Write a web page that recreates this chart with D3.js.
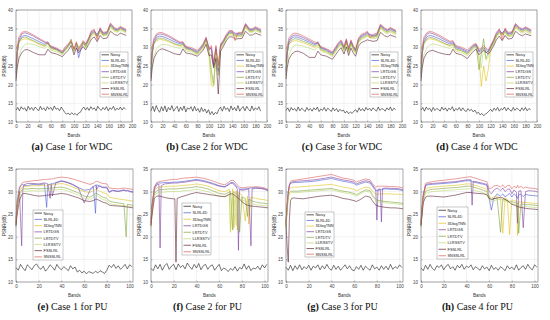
<!DOCTYPE html>
<meta charset="utf-8">
<style>
body { margin: 0; background: #fff; }
svg { display: block; }
.grid line { stroke: #e4e4e4; stroke-width: 0.5px; }
.box { fill: none; stroke: #555; stroke-width: 0.5px; }
.axis path { display: none; }
.axis line { stroke: #555; stroke-width: 0.4px; }
.axis text { fill: #444; }
.lab { font: 4.5px "Liberation Sans", Arial, sans-serif; fill: #333; text-anchor: middle; }
.caption { font: 10px "Liberation Serif", serif; fill: #111; text-anchor: middle; }
.caption .b { font-weight: bold; }
.legend rect { fill: #fff; stroke: #777; stroke-width: 0.4px; }
.legend text { font: 3.9px "Liberation Sans", Arial, sans-serif; fill: #222; }
.series { fill: none; stroke-width: 0.6px; stroke-linejoin: round; }
</style>
<body>
<svg width="550" height="320"></svg>
<script src="https://d3js.org/d3.v7.min.js"></script>
<script>
// methods, in legend order
var methods = ["Noisy", "SLRL4D", "3DlogTNN", "LRTDGS", "LRTDTV", "LLRSSTV", "FSSLRL", "SNSSLRL"];
var colors = ["#1a1a1a", "#4b5bd6", "#e3c21a", "#7b3fa0", "#7fa33a", "#b8d96e", "#5e2236", "#dc5a5a"];

// ---- WDC (191 bands) ----
var wdcBands = [0,2,5,10,15,20,30,40,50,55,60,70,80,85,90,95,100,104,108,112,116,120,125,130,135,140,145,150,157,163,170,175,180,190];
var wdcNoisyBands = d3.range(0, 190, 3);

// case 1 : SLRL4D, 3DlogTNN, LRTDGS, LRTDTV, LLRSSTV, FSSLRL, SNSSLRL
var wdcA = [
  [22,28,31.5,32.9,33.2,33,32.3,31.5,30.8,31.5,30,29.5,28.5,29.5,30.3,31.2,29.8,30.5,27.2,29.5,31,30.5,32,33.8,34.2,33.5,34.8,33.5,33.8,36,34.8,34.6,35.2,34.4],
  [29.5,30.5,31.3,32,32.3,32.2,31.6,30.8,30.2,31,29.6,29.2,28.3,29.3,30.2,31.8,29.3,31,29.7,30.4,31.2,30,31.6,33.3,33.8,33.2,34.3,33.2,33.5,35.6,34.5,34.3,34.9,34.1],
  [23,28.5,32,33.6,33.9,33.7,33,32.1,31.3,31,30.2,29.6,28.7,29.8,30.6,31.5,29.2,31,29,30,31.5,30.8,32.2,34.2,34.5,33,35,33.8,34,36.3,35,34.8,35.4,34.6],
  [24,28.5,31.3,32.5,32.8,32.5,31.8,31,30.4,31.3,29.8,29.3,28.4,29.4,30.5,32.2,29,31.2,30,30.8,31.5,30.2,31.8,33.5,34,32.8,34.5,33.3,33.6,35.8,34.6,34.4,35,34.2],
  [21.5,25,27.8,29.8,30.7,31,30.8,30.2,29.7,30.5,29.2,28.8,28,29,29.9,31.2,28.8,30.6,29.3,30,30.8,29.8,31.3,33,33.5,32.6,34,33,33.2,35.2,34.2,34,34.6,33.8],
  [21,24.5,27,28.6,29.3,29.4,28.6,28,28,29.5,28.6,28.2,27.5,28.4,29.2,30.5,28,29.8,28.5,29.4,30.2,29.3,30.7,32.2,32.8,31.5,33.2,32.3,32.5,34.3,33.4,33.2,33.8,33.2],
  [25,30,32.8,34,34.3,34.1,33.3,32.4,31.5,31.2,30.4,29.8,29,30.2,31,31.8,29.5,31.5,29.5,30.5,31.8,31,32.5,34.5,34.8,32,35.3,34,34.2,36.5,35.2,35,35.6,34.8]
];
var wdcNoisyA = [13.2,13.9,13.0,14.1,13.4,13.8,12.9,14.2,13.3,13.9,13.1,14.0,13.5,13.0,14.2,13.3,13.8,13.0,14.1,13.4,13.9,13.1,14.3,13.4,13.7,13.0,14.0,13.3,12.6,12.1,12.4,11.9,12.5,12.0,12.3,11.8,12.4,12.6,13.5,14.0,13.2,13.9,13.1,14.1,13.4,13.8,13.0,14.2,13.5,13.1,13.9,13.3,14.1,13.0,13.8,13.4,14.2,13.1,13.7,13.3,14.0,13.2,13.9,13.4];

// case 2
var wdcB = [
  [22,27.8,31.2,32.7,33,32.9,32.3,31.5,30.9,31,29.9,29.4,28.6,29.5,30.5,32.2,30,29.5,25,29.5,23.5,30.3,31.5,33,34,34,33.5,33.5,33.5,36,34.6,34.6,35.1,34.3],
  [29.5,30.3,31,31.8,32.1,32,31.5,30.8,30.3,30.6,29.5,29.1,28.2,29.1,30.1,31.8,28.5,19.8,19.5,28.5,26,29.8,31.1,32.6,33.6,33.6,33,33,33.1,35.5,34.2,34.2,34.7,33.9],
  [23,28.5,31.8,33.3,33.6,33.5,32.9,32,31.2,31.3,30.1,29.6,28.9,29.8,30.8,32.5,29.2,30,25.5,30,24,30.6,31.8,33.2,34.3,34.3,33.8,33.7,33.8,36.2,34.8,34.8,35.3,34.5],
  [24,28.5,31,32.2,32.5,32.4,31.8,31,30.5,30.8,29.7,29.2,28.4,29.3,30.3,32,29,24,20,29,22.5,30,31.3,32.8,33.8,33.8,33.2,33.2,33.3,35.7,34.4,34.4,34.9,34.1],
  [21.5,25,27.8,29.7,30.5,30.8,30.6,30.1,29.7,30.2,29.1,28.7,27.9,28.8,29.8,31.4,28.2,22,19.8,28,24.5,29.5,30.8,32.3,33.3,33.3,32.8,32.8,32.9,35.2,34,34,34.5,33.7],
  [21,24.5,27,28.6,29.4,29.6,29,28.3,28,29.6,28.5,28.2,27.6,28.4,29.3,30.8,27.8,28,24.5,27,17.5,29,30.3,31.8,32.8,32.8,32.2,32.3,32.4,34.3,33.3,33.3,33.8,33.2],
  [25.5,30,32.5,33.7,34,33.9,33.2,32.3,31.4,31.5,30.3,29.9,29.2,30,31,32.8,29.5,30.5,26,30.5,25,31,32,33.5,34.5,34.5,31.8,34,34,36.4,35,35,35.5,34.8]
];
var wdcNoisyB = [13.0,14.2,12.8,14.4,13.3,12.6,14.1,13.0,14.3,12.7,13.9,13.2,14.4,12.9,13.6,14.2,12.8,14.0,13.1,14.3,12.7,13.8,13.4,14.1,12.9,14.2,13.0,13.6,12.6,13.9,12.8,13.5,12.4,13.3,12.0,12.8,11.9,12.6,12.2,13.4,14.0,12.9,14.2,13.3,13.8,12.8,14.3,13.2,13.9,13.0,14.4,12.9,13.7,14.1,13.0,14.2,13.4,12.9,14.3,13.1,13.8,13.3,14.1,12.9];

// case 3
var wdcC = [
  [22.5,28,31.3,32.5,32.8,32.7,32.1,31.4,30.7,31.5,29.8,29.2,28.3,29.4,30.6,31.4,29.7,31.7,29.2,31.4,30,29,31.9,32.9,33.2,33.7,33.3,33,33.3,35.8,34.8,34.4,34.9,34.1],
  [29.5,30.2,30.8,31.5,31.8,31.7,31.2,30.6,30,30.6,29.3,28.7,27.8,28.9,30.1,30.9,29.2,31.2,28.8,30.9,29.5,28.6,31.4,32.4,32.7,33.2,32.8,32.6,32.8,35.3,34.3,33.9,34.4,33.6],
  [23.5,28.5,31.8,33,33.3,33.2,32.6,31.8,31,31.1,30,29.4,28.5,29.7,30.9,31.7,30,32,29.5,31.7,30.2,29.2,32.2,33.2,33.5,34,33.5,33.2,33.5,36,35,34.6,35.1,34.3],
  [24,28.3,30.8,31.9,32.3,32.2,31.6,31,30.3,31,29.5,28.9,28,29.1,30.3,31.1,29.4,31.4,29,31.1,29.7,28.8,31.6,32.6,32.9,33.4,33,32.8,33,35.5,34.5,34.1,34.6,33.8],
  [22,25.5,28,29.8,30.5,30.6,30.3,29.8,29.3,30.2,29,28.4,27.5,28.6,29.8,30.6,28.9,30.9,28.5,30.6,29.2,28.3,31.1,32.1,32.4,32.9,32.5,32.3,32.5,35,34,33.6,34.1,33.3],
  [21.5,24.5,26.8,28.2,28.8,29,28.4,27.3,27.3,29,28,27.6,26.8,27.9,29,29.9,28.2,30.1,27.8,29.8,28.5,27.6,30.3,31.3,31.6,32,31.8,31.6,31.8,34,33.1,32.8,33.3,32.7],
  [26,30.2,32.5,33.5,33.8,33.7,33,32.2,31.4,31.3,30.2,29.6,28.8,30,31.2,32,30.3,32.3,29.8,32,30.5,29.5,32.5,33.5,33.8,34.3,32.5,33.5,33.8,36.2,35.2,34.8,35.3,34.5]
];
var wdcNoisyC = [13.1,13.8,12.8,13.9,13.2,13.6,12.9,14.0,13.0,13.7,13.3,12.8,13.9,13.1,13.6,12.9,13.8,13.2,14.0,12.8,13.5,13.1,13.9,12.9,13.7,13.3,12.8,13.8,13.0,13.6,12.7,13.4,12.9,13.2,12.4,12.9,12.2,12.7,12.3,12.9,13.3,12.6,13.8,13.0,13.6,12.9,13.9,13.2,13.7,13.0,13.8,13.3,12.9,14.0,13.1,13.6,13.4,12.9,13.8,13.2,14.0,13.0,13.7,13.3];

// case 4
var wdcD = [
  [22,28,31.4,32.8,33.2,33,32.4,31.6,30.9,31.2,29.9,29.4,28.6,29.4,30.3,30.6,28.7,29.2,29.8,29.5,28.7,30,31.5,33.4,34.4,33.8,34.6,33.5,33.8,36,34.9,34.6,35.1,34.3],
  [29.5,30.3,31,31.9,32.3,32.2,31.6,30.9,30.3,30.7,29.4,29,28.1,28.9,29.8,30.2,27.5,19.5,25,21,24,29.5,31,32.9,33.9,33.3,34.1,33,33.3,35.5,34.4,34.1,34.6,33.8],
  [23,28.5,32,33.5,33.9,33.7,33,32.1,31.3,31.5,30.2,29.7,28.9,29.7,30.5,30.8,29,29.5,30,28.5,29,30.2,31.8,33.7,34.7,33.5,34.9,33.7,34,36.2,35.1,34.8,35.3,34.5],
  [24,28.3,31,32.3,32.7,32.5,31.9,31.1,30.5,30.9,29.6,29.1,28.3,29.1,30,30.4,24,28.5,32.3,27,28.5,29.8,31.2,33.1,34.1,33.5,34.3,33.2,33.5,35.7,34.6,34.3,34.8,34],
  [21.5,25,27.9,29.8,30.7,30.9,30.6,30.1,29.7,30.2,29,28.6,27.8,28.6,29.5,30,27,24.5,30,26.5,27.5,29.2,30.7,32.6,33.6,33,33.8,32.8,33,35.2,34.1,33.8,34.3,33.5],
  [21,24.5,27,28.5,29,29.2,28.6,28.2,28,29.5,28.4,28,27,28,28.9,29.5,28,28.7,29.2,28.8,28.2,29,30.3,32,33,31.8,33.2,32.2,32.4,34.3,33.4,33.1,33.6,33.1],
  [25.5,30,32.7,33.9,34.3,34.1,33.4,32.5,31.6,31.8,30.5,30,29.3,30,30.8,31,29.5,29.8,30.5,29.8,29.3,30.5,32,34,35,32,35.2,34,34.2,36.4,35.3,35,35.5,34.7]
];
var wdcNoisyD = [13.2,13.9,12.9,14.0,13.3,13.7,12.8,13.9,13.1,13.6,13.4,12.9,14.0,13.2,13.8,12.9,13.7,13.3,14.1,12.9,13.6,13.2,13.9,13.0,13.8,13.1,12.8,13.6,13.0,13.4,12.7,13.2,12.3,12.6,11.9,12.3,11.7,12.1,12.4,12.9,13.4,12.8,13.7,13.1,13.9,12.9,13.6,13.3,14.0,13.0,13.8,13.2,12.9,13.9,13.1,13.7,13.4,12.9,13.8,13.1,13.9,13.0,13.6,13.3];

// ---- PU (103 bands) ----
var puNoisyBands = d3.range(0, 103, 2);

var puBandsE = [0,1,3,5,6,7,10,15,20,25,27,28,30,31,32,35,40,45,50,55,60,65,68,70,71,73,76,80,82,85,90,95,97,98,100,103];
var puE = [
  [24,28,31,31.5,31.6,31.4,31.3,31.6,31.5,31.7,26.5,31.5,31.6,31.8,31.7,32,32.4,32.1,31.6,30.9,30.3,30.5,31.2,25.2,31.5,31.3,31,31,30,30.3,30.1,30.4,30.2,30.3,30.1,30],
  [23.5,27.5,30,30.8,31,31.1,31.2,31.3,31.3,31.4,31.4,31.4,31.5,31.5,31.5,31.6,31.8,31.5,31,30.5,30,29.8,30.2,30.5,30.5,30.2,29.8,29.5,28.8,28.6,28.4,28.2,28.1,28.1,28,27.9],
  [22.5,27,30,18,30.5,31.5,31.8,31.8,31.7,31.9,31.8,31.7,28.5,31.6,29,31.9,32.3,32,31.5,30.8,27.5,30.2,31,31.5,30.5,31.3,30.9,30.8,29.8,30.2,30,30.3,30.1,30.2,30,29.8],
  [23,27,29.5,30.3,30.5,30.6,30.6,30.7,30.6,30.7,30.7,30.7,30.8,30.8,30.8,30.9,31,30.7,30.2,29.7,29,28.8,29.2,29.6,29.6,29.3,28.8,28.5,27.9,27.7,27.5,27.3,20,27.2,27.1,27],
  [22,26.5,29,29.8,30,30.1,30.1,30.2,30.1,30.2,30.2,30.2,30.3,30.3,30.3,30.4,30.5,30.2,29.7,29.2,28.5,28.3,28.7,29.1,29.1,28.8,28.3,28,27.4,27.2,27,26.9,26.8,26.8,26.7,26.6],
  [22.5,25,28,29.3,29.5,29.6,29.5,29.2,29,29.1,29.2,29.2,29.3,29.3,29.3,29.4,29.6,29.4,29,28.6,28,27.8,28,28.3,28.3,28.1,27.7,27.4,27,26.9,26.8,26.7,26.6,26.6,26.5,26.4],
  [23,26,30.5,31.8,32,32.1,32.2,32.4,32.5,32.7,32.7,32.7,32.8,32.8,32.8,33,33.2,33.1,32.8,32.4,32,31.6,31.8,32.2,32.3,32.1,31.8,31.7,30.8,30.7,30.6,30.8,30.7,30.7,30.6,30.5]
];
var puNoisyE = [13.2,12.6,13.9,13.1,12.5,13.8,13.3,12.7,13.6,14.0,13.2,12.8,13.5,12.4,13.0,13.8,13.3,12.6,13.9,13.1,12.7,13.4,13.0,12.5,13.6,12.9,13.3,12.2,12.6,12.0,12.4,11.8,12.3,12.1,11.9,12.4,12.0,12.5,12.2,11.9,12.6,13.7,13.2,13.9,13.0,13.6,12.8,13.3,13.9,12.9,13.8,13.4];

var puBandsF = [0,1,3,5,7,8,9,12,16,20,21,22,23,26,30,35,40,45,50,55,60,65,69,70,72,73,75,76,77,78,80,83,85,86,88,89,92,96,100,103];
var puF = [
  [24,27.5,31,31.8,31.9,31.9,31.9,32,32,32.1,32.1,32.1,32.1,32.2,32.3,32.5,32.7,32.5,32.2,31.8,31.3,31.1,31.8,32,32,31.9,31.3,31,30.8,30.6,30.5,30.6,30.7,30.7,30.8,30.8,30.9,30.8,30.6,30.3],
  [23.5,27,30.2,30.8,31,31,31,31.1,31.2,31.2,31.2,31.2,31.2,31.3,31.4,31.5,31.7,31.5,31.2,30.7,30.2,30,30.5,21,30.6,22,30.2,21.5,29.8,29.6,29.2,23.5,29,22.8,28.8,28.7,28.5,28.3,28.2,28],
  [23,27,30.5,31.5,31.6,17.5,31.3,31.7,31.8,31.9,31.9,31.9,31.9,32,32.1,32.3,32.5,32.3,32,31.6,31.2,31,31.6,31.8,31.8,31.6,31,30.5,17,30.5,30.3,30.4,30.5,30.6,18,30.6,30.7,30.7,30.5,30.2],
  [23,26.5,29.5,30.2,30.4,30.4,30.4,30.5,30.6,30.6,30.6,30.6,30.6,30.7,30.8,30.9,31.1,30.9,30.6,30.1,29.6,29.4,29.9,30,21.5,30,29.5,29.4,29.2,21,28.8,28.5,24.5,28.3,28.1,27.9,27.7,27.5,27.4,27.3],
  [22,26,29,29.7,29.8,29.8,29.8,29.9,30,30,30,30,30,30.1,30.2,30.3,30.5,30.3,30,29.5,29,28.8,29.3,21.5,29.4,29.2,22.5,28.8,28.6,28.4,28.2,27.9,27.7,27.6,27.4,27.3,27.1,27,26.9,26.8],
  [22.5,25,28.5,29,29,29,28.9,28.7,28.5,28.4,28.4,14.4,28.5,28.8,29.1,29.5,29.8,29.6,29.4,29.2,29,28.9,29.4,29.5,29.5,29.3,28.9,28.7,28.5,28.3,27.8,27.2,27,26.9,26.8,26.8,26.7,26.6,26.5,26.4],
  [22.5,26,31,32,32.2,32.2,32.3,32.4,32.6,32.7,32.7,32.7,32.7,32.9,33,33.1,33.2,33,32.7,32.3,31.8,31.5,32.2,32.4,32.5,32.4,31.8,31.5,31.2,31,30.8,30.9,31,31,31,31,31.1,31,30.8,30.5]
];
var puNoisyF = [13.0,12.5,13.8,12.9,13.9,12.6,13.6,14.1,12.8,13.5,13.9,12.7,14.0,13.2,13.7,12.9,14.2,13.4,12.8,13.9,13.1,14.1,12.7,13.6,13.9,12.8,13.5,13.8,12.6,13.3,13.9,12.5,13.1,12.8,12.3,13.0,12.6,13.4,12.4,13.2,12.9,14.0,12.8,13.6,12.5,13.1,12.9,13.5,12.7,13.8,13.1,13.9];

var puBandsG = [0,1,2,3,4,5,7,10,15,20,25,30,35,40,45,50,55,60,62,65,70,74,76,78,79,80,81,83,84,85,88,92,96,100,103];
var puG = [
  [23.5,27,30,31.3,31.8,31.9,32,32,32.1,32.2,32.3,32.5,32.7,32.9,32.6,32.3,32.1,31.8,31.4,31.7,32.1,31.9,31.2,30.5,30.3,30.2,30.3,30.4,30.4,30.5,30.6,30.5,30.5,30.4,30.2],
  [23,26.5,29.5,30.5,30.8,30.9,31,31,31.1,31.2,31.3,31.4,31.5,31.6,31.3,31,30.8,30.5,30.2,30.5,31,30.8,30.1,29.6,29.5,29.4,29.4,29.5,29.5,29.5,29.5,29.5,29.4,29.4,29.3],
  [23,27,30,31.5,32,32.1,32.2,32.3,32.4,32.5,32.6,32.8,33,33.2,32.9,32.6,32.4,32.1,31.7,32,32.4,32.2,31.5,30.8,30.5,23.7,30.5,30.6,23.3,30.7,30.8,30.7,30.7,30.6,30.4],
  [22.5,26,29,29.8,30,30.1,30.1,30.1,30.2,30.3,30.4,30.5,30.6,30.7,30.4,30.1,29.9,29.6,29.3,29.7,30.4,30.2,29.3,28.6,28.3,28.1,28,28,27.9,27.9,27.8,27.7,27.6,27.5,27.4],
  [22,25.5,28.5,29.5,29.7,29.8,29.8,29.8,29.9,30,30.1,30.2,30.3,30.4,30.1,29.8,29.6,29.3,29,29.4,30.1,29.9,29,28.3,28,27.8,27.7,27.7,27.6,27.6,27.5,27.4,27.3,27.2,27.1],
  [23,18,14.4,24,28,28.5,28.6,28.5,28.4,28.6,28.8,29,29.1,29.2,28.9,28.5,28.3,28,27.8,28.2,29,28.8,28,27.3,27,26.9,26.8,26.7,26.7,26.6,26.5,26.4,26.4,26.3,26.2],
  [23,26.5,29.5,31.5,32.2,32.4,32.5,32.6,32.8,33,33.2,33.4,33.6,33.8,33.4,33,32.8,32.5,32.1,32.4,32.8,32.6,31.8,31.2,31,31.1,31.2,31.2,31.2,31.2,31.2,31.1,31.1,31,30.8]
];
var puNoisyG = [13.3,12.6,13.7,12.5,13.6,12.8,13.8,12.7,13.4,12.9,13.7,12.6,13.5,13.1,13.8,12.7,13.6,12.9,13.9,13.0,12.6,13.7,12.8,13.5,12.6,13.2,13.8,12.9,13.6,12.7,12.5,13.4,12.8,13.7,12.6,13.5,13.0,12.6,13.8,12.9,13.3,12.6,13.6,12.8,13.5,12.7,13.9,12.8,13.4,13.0,13.8,13.2];

var puBandsH = [0,1,2,4,6,10,15,20,25,30,35,40,44,45,46,50,55,58,60,62,64,67,70,72,74,76,78,80,82,84,85,86,88,90,92,95,100,103];
var puH = [
  [23.5,27,29.5,31.2,31.5,31.6,31.7,31.8,31.9,32,32.2,32.4,32.4,32.2,32.1,31.9,31.6,31.4,28.5,25.9,28.5,29.5,29,29.5,28.8,29.2,29.6,28.8,29.5,29,28.5,29.3,29.4,28.9,29.4,29.2,29.1,29],
  [23,26.5,29,30.5,30.8,31,31.1,31.2,31.3,31.4,31.5,31.7,31.7,31.6,31.5,31.2,30.8,30.5,29,28.6,28.8,29,28.5,20.8,28.6,28.3,20.5,28.2,28,27.9,20.3,27.8,27.7,27.6,27.6,27.5,27.4,27.3],
  [22.5,26,29,31.5,31.7,31.8,31.9,32,32.1,32.2,32.4,32.6,32.6,27,32.3,32.1,31.8,31.6,30,29.5,30.3,30.8,30.2,30.8,30,30.5,30.6,29.5,30.4,29.8,23,30.1,30.2,22,30,30.2,30.1,29.9],
  [22.5,26,28.5,30,30.3,30.5,30.6,30.7,30.8,30.9,31,31.2,31.2,31.1,31,30.7,30.3,30,28.6,28.2,28.4,28.6,21,28.4,28.2,28,27.9,27.8,27.6,27.5,27.4,20.8,27.3,27.2,27.1,27.1,27,26.9],
  [22,25.5,28,29.5,29.8,30,30.1,30.2,30.3,30.4,30.5,30.6,30.6,30.5,30.4,30.1,29.7,29.4,28.2,27.8,28,28.2,28.3,28.1,27.9,27.7,27.5,27.4,27.2,27.1,27,26.9,26.8,26.7,26.7,26.6,26.5,26.4],
  [22.5,25,27.5,28.8,29,29,28.9,28.8,29,29.2,29.5,29.8,29.8,29.7,29.7,29.6,29.5,29.3,28.5,28.3,28.4,28.6,28.7,28.6,28.3,28,27.6,27.2,27,26.8,26.7,26.6,26.5,26.4,26.3,26.2,26.1,26],
  [23,26.5,29,31.8,32,32.2,32.4,32.5,32.7,32.8,33,33.2,33.3,33.2,33.1,32.8,32.4,32.2,30.6,30.8,31.2,31.4,31,31.5,30.8,31.3,31.4,30.6,31.2,30.8,31.4,30.9,31.2,30.7,31,30.8,30.7,30.5]
];
var puNoisyH = [13.1,12.5,13.7,12.8,13.9,13.0,12.6,13.6,13.2,13.8,12.7,13.5,13.9,12.9,13.4,12.6,13.7,13.1,13.9,12.8,13.5,13.2,13.8,12.7,13.4,13.0,12.6,13.6,12.9,13.3,12.5,13.7,12.8,13.2,12.6,13.4,13.0,12.5,13.6,12.9,13.3,12.7,13.8,12.6,13.2,13.6,12.8,13.9,13.1,12.7,13.8,13.3];

var wdcXTicks = [0,20,40,60,80,100,120,140,160,180,200];
var puXTicks = [0,20,40,60,80,100];
var wdcYTicks = [10,15,20,25,30,35,40];
var puYTicks = [10,15,20,25,30,35];

var panels = [
  {tag:"(a)", text:" Case 1 for WDC", left:16,  top:10,  w:116, h:112, xmax:200, ymax:40, xt:wdcXTicks, yt:wdcYTicks, bands:wdcBands, lines:wdcA, nb:wdcNoisyBands, noisy:wdcNoisyA, leg:[84,42,28,45]},
  {tag:"(b)", text:" Case 2 for WDC", left:151, top:10,  w:116, h:112, xmax:200, ymax:40, xt:wdcXTicks, yt:wdcYTicks, bands:wdcBands, lines:wdcB, nb:wdcNoisyBands, noisy:wdcNoisyB, leg:[84,42,28,45]},
  {tag:"(c)", text:" Case 3 for WDC", left:286, top:10,  w:116, h:112, xmax:200, ymax:40, xt:wdcXTicks, yt:wdcYTicks, bands:wdcBands, lines:wdcC, nb:wdcNoisyBands, noisy:wdcNoisyC, leg:[84,42,28,45]},
  {tag:"(d)", text:" Case 4 for WDC", left:421, top:10,  w:116, h:112, xmax:200, ymax:40, xt:wdcXTicks, yt:wdcYTicks, bands:wdcBands, lines:wdcD, nb:wdcNoisyBands, noisy:wdcNoisyD, leg:[84,42,28,45]},
  {tag:"(e)", text:" Case 1 for PU",  left:16,  top:169, w:117, h:113, xmax:103, ymax:35, xt:puXTicks,  yt:puYTicks,  bands:puBandsE, lines:puE, nb:puNoisyBands, noisy:puNoisyE, leg:[17,41,30,50]},
  {tag:"(f)", text:" Case 2 for PU",  left:151, top:169, w:117, h:113, xmax:103, ymax:35, xt:puXTicks,  yt:puYTicks,  bands:puBandsF, lines:puF, nb:puNoisyBands, noisy:puNoisyF, leg:[31,34,29,52]},
  {tag:"(g)", text:" Case 3 for PU",  left:286, top:169, w:117, h:113, xmax:103, ymax:35, xt:puXTicks,  yt:puYTicks,  bands:puBandsG, lines:puG, nb:puNoisyBands, noisy:puNoisyG, leg:[19,43,29,45]},
  {tag:"(h)", text:" Case 4 for PU",  left:421, top:169, w:117, h:113, xmax:103, ymax:35, xt:puXTicks,  yt:puYTicks,  bands:puBandsH, lines:puH, nb:puNoisyBands, noisy:puNoisyH, leg:[16,38,31,52]}
];

var svg = d3.select("svg");

panels.forEach(function(p) {
  var x = d3.scaleLinear().domain([0, p.xmax]).range([0, p.w]);
  var y = d3.scaleLinear().domain([10, p.ymax]).range([p.h, 0]);
  var g = svg.append("g").attr("transform", "translate(" + p.left + "," + p.top + ")");

  // grid
  var grid = g.append("g").attr("class", "grid");
  grid.selectAll(".gx").data(p.xt).enter().append("line")
      .attr("x1", function(d) { return x(d); }).attr("x2", function(d) { return x(d); })
      .attr("y1", 0).attr("y2", p.h);
  grid.selectAll(".gy").data(p.yt).enter().append("line")
      .attr("y1", function(d) { return y(d); }).attr("y2", function(d) { return y(d); })
      .attr("x1", 0).attr("x2", p.w);

  // axes
  g.append("g").attr("class", "axis")
      .attr("transform", "translate(0," + p.h + ")")
      .call(d3.axisBottom(x).tickValues(p.xt).tickSizeInner(-1.5).tickSizeOuter(0).tickPadding(3))
      .attr("font-size", 4.5).attr("font-family", "Liberation Sans, Arial, sans-serif");
  g.append("g").attr("class", "axis")
      .call(d3.axisLeft(y).tickValues(p.yt).tickSizeInner(-1.5).tickSizeOuter(0).tickPadding(3))
      .attr("font-size", 4.5).attr("font-family", "Liberation Sans, Arial, sans-serif");

  // series
  var line = d3.line().x(function(d) { return x(d[0]); }).y(function(d) { return y(d[1]); });
  g.append("path").attr("class", "series")
      .attr("stroke", colors[0])
      .attr("d", line(p.noisy.map(function(v, i) { return [p.nb[i], v]; })));
  p.lines.forEach(function(vals, k) {
    g.append("path").attr("class", "series")
        .attr("stroke", colors[k + 1])
        .attr("d", line(vals.map(function(v, i) { return [p.bands[i], v]; })));
  });

  g.append("rect").attr("class", "box").attr("width", p.w).attr("height", p.h);

  // labels
  g.append("text").attr("class", "lab")
      .attr("transform", "translate(-10," + (p.h / 2) + ") rotate(-90)")
      .text("PSNR(dB)");
  g.append("text").attr("class", "lab")
      .attr("x", p.w / 2).attr("y", p.h + 14.5)
      .text("Bands");

  var cap = g.append("text").attr("class", "caption")
      .attr("x", p.w / 2 - 2).attr("y", p.h + 27.5);
  cap.append("tspan").attr("class", "b").text(p.tag);
  cap.append("tspan").text(p.text);

  // legend
  var L = p.leg, step = L[3] / methods.length;
  var lg = g.append("g").attr("class", "legend").attr("transform", "translate(" + L[0] + "," + L[1] + ")");
  lg.append("rect").attr("width", L[2]).attr("height", L[3]);
  methods.forEach(function(m, i) {
    var cy = step * (i + 0.5);
    lg.append("line").attr("x1", 1.5).attr("x2", 9).attr("y1", cy).attr("y2", cy)
        .attr("stroke", colors[i]).attr("stroke-width", 0.7);
    lg.append("text").attr("x", 10.5).attr("y", cy + 1.4).text(m);
  });
});
</script>
</body>
